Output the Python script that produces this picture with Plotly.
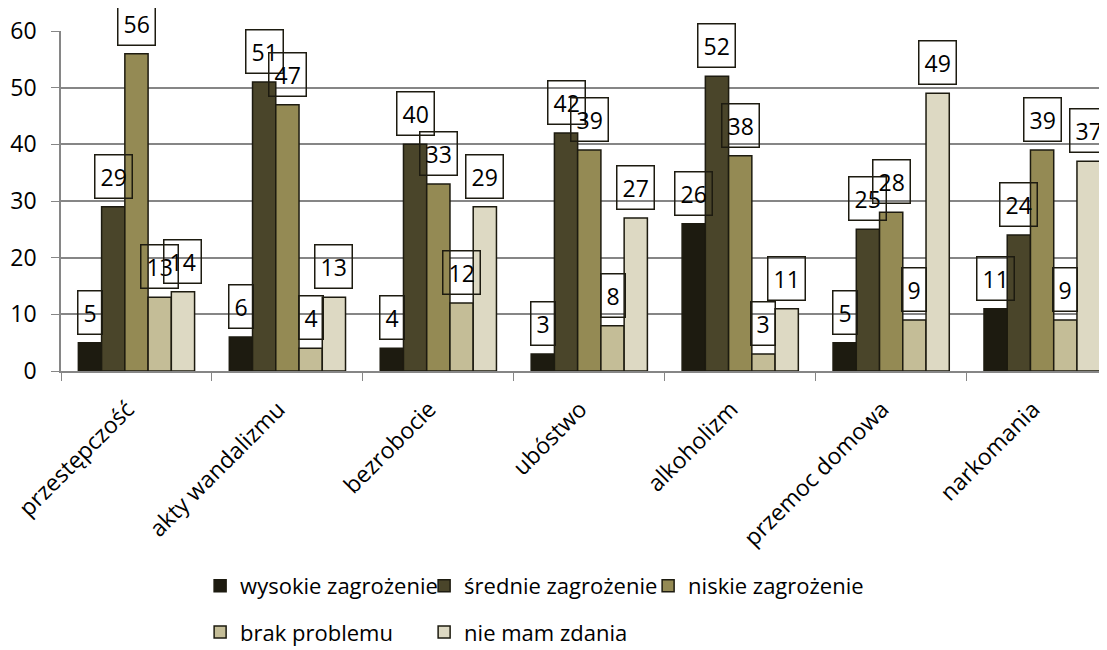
import plotly.graph_objects as go

categories = ["przestępczość", "akty wandalizmu", "bezrobocie", "ubóstwo",
              "alkoholizm", "przemoc domowa", "narkomania"]

series_names = ["wysokie zagrożenie", "średnie zagrożenie", "niskie zagrożenie",
                "brak problemu", "nie mam zdania"]

wysokie = [5, 6, 4, 3, 26, 5, 11]
srednie = [29, 51, 40, 42, 52, 25, 24]
niskie = [56, 47, 33, 39, 38, 28, 39]
brak = [13, 4, 12, 8, 3, 9, 9]
nie_mam = [14, 13, 29, 27, 11, 49, 37]

colors = ["#1d1b10", "#4a452a", "#948a54", "#c4bd97", "#ddd9c3"]

FONT = "Open Sans"
BARGAP = 0.23
PAGE_PAD = 8  # default <body> margin of the html page


def main():
  all_series = [wysokie, srednie, niskie, brak, nie_mam]
  xs = list(range(len(categories)))
  n = len(all_series)
  bar_w = (1 - BARGAP) / n

  fig = go.Figure()
  for j, (name, vals) in enumerate(zip(series_names, all_series)):
    fig.add_trace(go.Bar(
      x=xs, y=vals, name=name,
      marker=dict(color=colors[j], line=dict(color="#1d1b10", width=1.5)),
      legend="legend" if j < 3 else "legend2",
    ))
    # boxed data labels, centred over each bar
    for i, v in enumerate(vals):
      fig.add_annotation(
        x=i + (j - (n - 1) / 2) * bar_w, y=v, xref="x", yref="y",
        text=str(v), showarrow=False, yanchor="bottom", yshift=8,
        font=dict(family=FONT, size=23, color="#000000"),
        bordercolor="#1d1b10", borderwidth=1.5, borderpad=5,
      )

  fig.update_layout(
    width=1107, height=650,
    barmode="group", bargap=BARGAP, bargroupgap=0,
    plot_bgcolor="white", paper_bgcolor="white",
    margin=dict(l=61 - PAGE_PAD, r=PAGE_PAD, t=31 - PAGE_PAD, b=279 + PAGE_PAD,
                autoexpand=False),
    font=dict(family=FONT, size=23, color="#000000"),
    legend=dict(orientation="h", x=0.133, y=-0.632, xanchor="left", yanchor="middle",
                entrywidth=179, font=dict(size=22), traceorder="normal"),
    legend2=dict(orientation="h", x=0.133, y=-0.768, xanchor="left", yanchor="middle",
                 entrywidth=179, font=dict(size=22), traceorder="normal"),
  )
  fig.update_xaxes(
    range=[-0.5, 6.43], tickvals=xs, ticktext=categories, tickangle=-45,
    ticks="", showgrid=False, showline=True, linecolor="#868686", linewidth=1.5,
    minor=dict(tick0=-0.5, dtick=1, ticks="outside", ticklen=8, tickcolor="#868686",
               showgrid=False),
    ticklabelstandoff=14, ticklabelshift=-9,
    zeroline=False, automargin=False,
  )
  fig.update_yaxes(
    range=[0, 60], dtick=10, ticks="outside", ticklen=8, tickcolor="#868686",
    showline=True, linecolor="#868686", linewidth=1.5,
    showgrid=True, gridcolor="#868686", gridwidth=1.5, zeroline=False,
    ticklabelstandoff=10, automargin=False,
  )

  fig.write_html("out.html")


if __name__ == '__main__':
  main()
